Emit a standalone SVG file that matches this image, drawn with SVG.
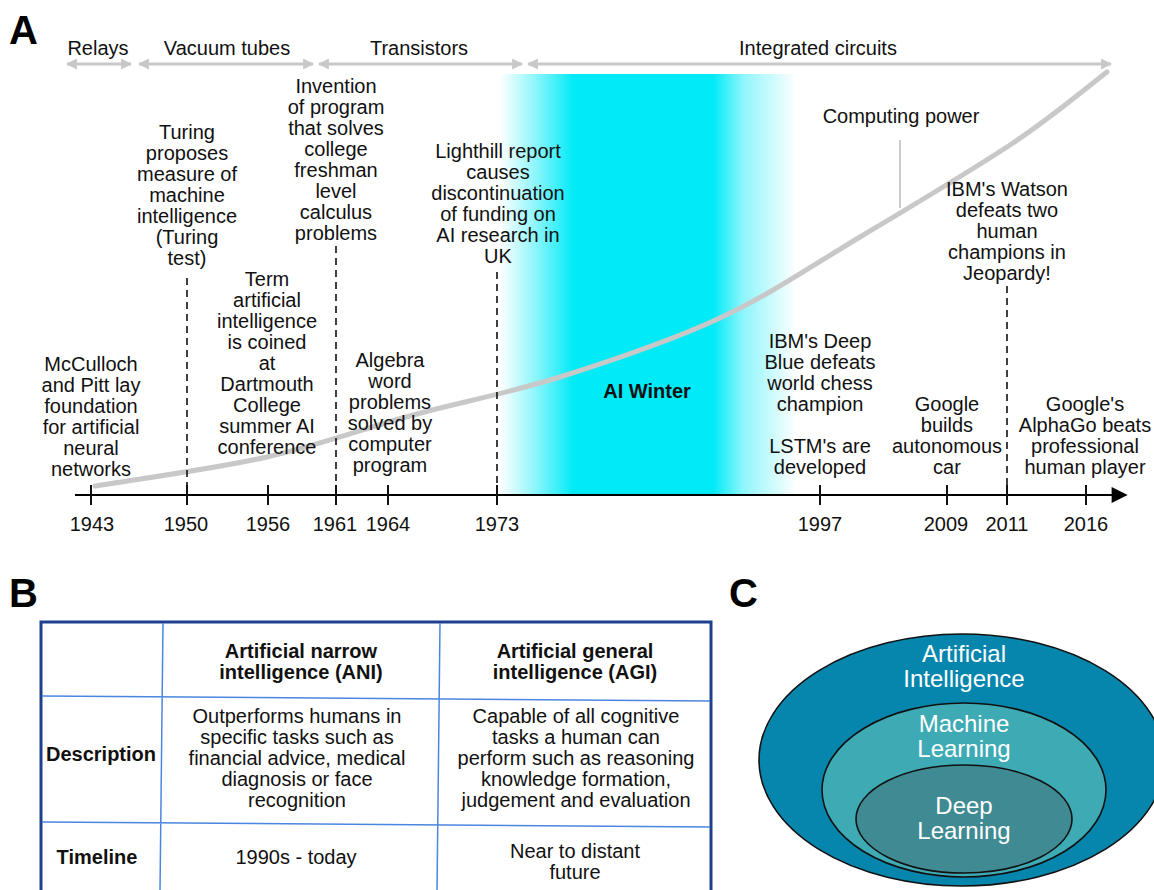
<svg xmlns="http://www.w3.org/2000/svg" width="1154" height="890" viewBox="0 0 1154 890">
<style>
text{font-family:"Liberation Sans",Arial,sans-serif;fill:#111}
.t{font-size:20px;text-anchor:middle}
.b{font-weight:bold}
.tb{font-size:20px;text-anchor:middle}
.w{fill:#fff;font-size:24px;text-anchor:middle}
.lab{font-size:40px;font-weight:bold;fill:#000}
.era{stroke:#c8c8c8;stroke-width:3;fill:none;marker-start:url(#ga);marker-end:url(#ga)}
.dash{stroke:#111;stroke-width:1.6;stroke-dasharray:7,5;fill:none}
.tick{stroke:#111;stroke-width:2}
.grid{stroke:#4a86e0;stroke-width:1.5;fill:none}
.ell{stroke:#111;stroke-width:1.6}
</style>
<defs>
<marker id="ga" viewBox="0 0 10 10" refX="9" refY="5" markerWidth="11" markerHeight="11" markerUnits="userSpaceOnUse" orient="auto-start-reverse">
<path d="M0,0 L10,5 L0,10 z" fill="#c8c8c8"/>
</marker>
<marker id="ba" viewBox="0 0 10 10" refX="9" refY="5" markerWidth="18" markerHeight="16" markerUnits="userSpaceOnUse" orient="auto">
<path d="M0,0 L10,5 L0,10 z" fill="#000"/>
</marker>
<linearGradient id="winter" x1="0" y1="0" x2="1" y2="0">
<stop offset="0" stop-color="#00eaf7" stop-opacity="0"/>
<stop offset="0.12" stop-color="#00eaf7" stop-opacity="0.45"/>
<stop offset="0.25" stop-color="#00eaf7" stop-opacity="1"/>
<stop offset="0.72" stop-color="#00eaf7" stop-opacity="1"/>
<stop offset="0.82" stop-color="#00eaf7" stop-opacity="0.45"/>
<stop offset="1" stop-color="#00eaf7" stop-opacity="0"/>
</linearGradient>
</defs>
<rect width="1154" height="890" fill="#fff"/>

<g id="panelA">
<text class="lab" x="9" y="44">A</text>
<g id="eras">
<line class="era" x1="67" y1="64" x2="131" y2="64"/>
<line class="era" x1="139" y1="64" x2="313" y2="64"/>
<line class="era" x1="319" y1="64" x2="522" y2="64"/>
<line class="era" x1="528" y1="64" x2="1111" y2="64"/>
<text class="t" x="98" y="55">Relays</text>
<text class="t" x="227" y="55">Vacuum tubes</text>
<text class="t" x="419" y="55">Transistors</text>
<text class="t" x="818" y="55">Integrated circuits</text>
</g>
<rect id="ai-winter-band" x="500" y="74" width="296" height="421" fill="url(#winter)"/>
<g id="ai-winter"><text class="t b" x="647" y="398">AI Winter</text></g>
<g id="computing-power">
<path d="M95,486 C123.7,481.2 214,468.8 267,457 C320,445.2 364.2,428.3 413,415 C461.8,401.7 508.8,393.2 560,377 C611.2,360.8 670,341.3 720,318 C770,294.7 811.2,266.2 860,237 C908.8,207.8 971.8,170.5 1013,143 C1054.2,115.5 1091.3,83.8 1107,72" stroke="#c8c8c8" stroke-width="5" fill="none" stroke-linecap="round"/>
<line x1="900" y1="140" x2="900" y2="208" stroke="#bbb" stroke-width="1.5"/>
<text class="t" x="901" y="123">Computing power</text>
</g>
<g id="connectors">
<line class="dash" x1="187" y1="278" x2="187" y2="488"/>
<line class="dash" x1="336" y1="246" x2="336" y2="488"/>
<line class="dash" x1="497" y1="272" x2="497" y2="488"/>
<line class="dash" x1="1007" y1="286" x2="1007" y2="488"/>
<line x1="75" y1="495" x2="1126" y2="495" stroke="#000" stroke-width="2" marker-end="url(#ba)"/>
<line class="tick" x1="91" y1="485" x2="91" y2="505"/>
<line class="tick" x1="187" y1="485" x2="187" y2="505"/>
<line class="tick" x1="268" y1="485" x2="268" y2="505"/>
<line class="tick" x1="336" y1="485" x2="336" y2="505"/>
<line class="tick" x1="388" y1="485" x2="388" y2="505"/>
<line class="tick" x1="497" y1="485" x2="497" y2="505"/>
<line class="tick" x1="820" y1="485" x2="820" y2="505"/>
<line class="tick" x1="947" y1="485" x2="947" y2="505"/>
<line class="tick" x1="1007" y1="485" x2="1007" y2="505"/>
<line class="tick" x1="1086" y1="485" x2="1086" y2="505"/>
</g>
<g id="years">
<text class="t" x="92" y="531">1943</text>
<text class="t" x="186" y="531">1950</text>
<text class="t" x="268" y="531">1956</text>
<text class="t" x="335" y="531">1961</text>
<text class="t" x="388" y="531">1964</text>
<text class="t" x="497" y="531">1973</text>
<text class="t" x="820" y="531">1997</text>
<text class="t" x="946" y="531">2009</text>
<text class="t" x="1007" y="531">2011</text>
<text class="t" x="1086" y="531">2016</text>
</g>
<g id="e1943"><text class="t" x="91" y="371"><tspan x="91">McCulloch</tspan><tspan x="91" dy="21">and Pitt lay</tspan><tspan x="91" dy="21">foundation</tspan><tspan x="91" dy="21">for artificial</tspan><tspan x="91" dy="21">neural</tspan><tspan x="91" dy="21">networks</tspan></text></g>
<g id="e1950"><text class="t" x="187" y="139"><tspan x="187">Turing</tspan><tspan x="187" dy="21">proposes</tspan><tspan x="187" dy="21">measure of</tspan><tspan x="187" dy="21">machine</tspan><tspan x="187" dy="21">intelligence</tspan><tspan x="187" dy="21">(Turing</tspan><tspan x="187" dy="21">test)</tspan></text></g>
<g id="e1956"><text class="t" x="267" y="286"><tspan x="267">Term</tspan><tspan x="267" dy="21">artificial</tspan><tspan x="267" dy="21">intelligence</tspan><tspan x="267" dy="21">is coined</tspan><tspan x="267" dy="21">at</tspan><tspan x="267" dy="21">Dartmouth</tspan><tspan x="267" dy="21">College</tspan><tspan x="267" dy="21">summer AI</tspan><tspan x="267" dy="21">conference</tspan></text></g>
<g id="e1961"><text class="t" x="336" y="93"><tspan x="336">Invention</tspan><tspan x="336" dy="21">of program</tspan><tspan x="336" dy="21">that solves</tspan><tspan x="336" dy="21">college</tspan><tspan x="336" dy="21">freshman</tspan><tspan x="336" dy="21">level</tspan><tspan x="336" dy="21">calculus</tspan><tspan x="336" dy="21">problems</tspan></text></g>
<g id="e1964"><text class="t" x="390" y="367"><tspan x="390">Algebra</tspan><tspan x="390" dy="21">word</tspan><tspan x="390" dy="21">problems</tspan><tspan x="390" dy="21">solved by</tspan><tspan x="390" dy="21">computer</tspan><tspan x="390" dy="21">program</tspan></text></g>
<g id="e1973"><text class="t" x="498" y="158"><tspan x="498">Lighthill report</tspan><tspan x="498" dy="21">causes</tspan><tspan x="498" dy="21">discontinuation</tspan><tspan x="498" dy="21">of funding on</tspan><tspan x="498" dy="21">AI research in</tspan><tspan x="498" dy="21">UK</tspan></text></g>
<g id="e1997"><text class="t" x="820" y="348"><tspan x="820">IBM's Deep</tspan><tspan x="820" dy="21">Blue defeats</tspan><tspan x="820" dy="21">world chess</tspan><tspan x="820" dy="21">champion</tspan><tspan x="820" dy="42">LSTM's are</tspan><tspan x="820" dy="21">developed</tspan></text></g>
<g id="e2009"><text class="t" x="947" y="411"><tspan x="947">Google</tspan><tspan x="947" dy="21">builds</tspan><tspan x="947" dy="21">autonomous</tspan><tspan x="947" dy="21">car</tspan></text></g>
<g id="e2011"><text class="t" x="1007" y="196"><tspan x="1007">IBM's Watson</tspan><tspan x="1007" dy="21">defeats two</tspan><tspan x="1007" dy="21">human</tspan><tspan x="1007" dy="21">champions in</tspan><tspan x="1007" dy="21">Jeopardy!</tspan></text></g>
<g id="e2016"><text class="t" x="1085" y="411"><tspan x="1085">Google's</tspan><tspan x="1085" dy="21">AlphaGo beats</tspan><tspan x="1085" dy="21">professional</tspan><tspan x="1085" dy="21">human player</tspan></text></g>
</g>

<g id="panelB">
<text class="lab" x="9" y="607">B</text>
<g id="table">
<rect x="41" y="622" width="670" height="272" fill="#fff" stroke="#1f3f8f" stroke-width="3"/>
<path class="grid" d="M163,623 L160,892 M440,623 L437,892 M42,696 L710,701 M42,822 L710,827"/>
<text class="t b" x="301" y="658"><tspan x="301">Artificial narrow</tspan><tspan x="301" dy="21">intelligence (ANI)</tspan></text>
<text class="t b" x="575" y="658"><tspan x="575">Artificial general</tspan><tspan x="575" dy="21">intelligence (AGI)</tspan></text>
<text class="t b" x="101" y="761">Description</text>
<text class="tb" x="297" y="723"><tspan x="297">Outperforms humans in</tspan><tspan x="297" dy="21">specific tasks such as</tspan><tspan x="297" dy="21">financial advice, medical</tspan><tspan x="297" dy="21">diagnosis or face</tspan><tspan x="297" dy="21">recognition</tspan></text>
<text class="tb" x="576" y="723"><tspan x="576">Capable of all cognitive</tspan><tspan x="576" dy="21">tasks a human can</tspan><tspan x="576" dy="21">perform such as reasoning</tspan><tspan x="576" dy="21">knowledge formation,</tspan><tspan x="576" dy="21">judgement and evaluation</tspan></text>
<text class="t b" x="97" y="864">Timeline</text>
<text class="tb" x="296" y="864">1990s - today</text>
<text class="tb" x="575" y="858"><tspan x="575">Near to distant</tspan><tspan x="575" dy="21">future</tspan></text>
</g>
</g>

<g id="panelC">
<text class="lab" x="729" y="607">C</text>
<g id="ai"><ellipse class="ell" cx="962" cy="760" rx="203" ry="126" fill="#0786ad"/>
<text class="w" x="964" y="662"><tspan x="964">Artificial</tspan><tspan x="964" dy="25">Intelligence</tspan></text></g>
<g id="ml"><ellipse class="ell" cx="964" cy="790" rx="142" ry="87" fill="#3eaab4"/>
<text class="w" x="964" y="732"><tspan x="964">Machine</tspan><tspan x="964" dy="25">Learning</tspan></text></g>
<g id="dl"><ellipse class="ell" cx="964" cy="819" rx="108" ry="54" fill="#3f8a93"/>
<text class="w" x="964" y="814"><tspan x="964">Deep</tspan><tspan x="964" dy="25">Learning</tspan></text></g>
</g>
</svg>
